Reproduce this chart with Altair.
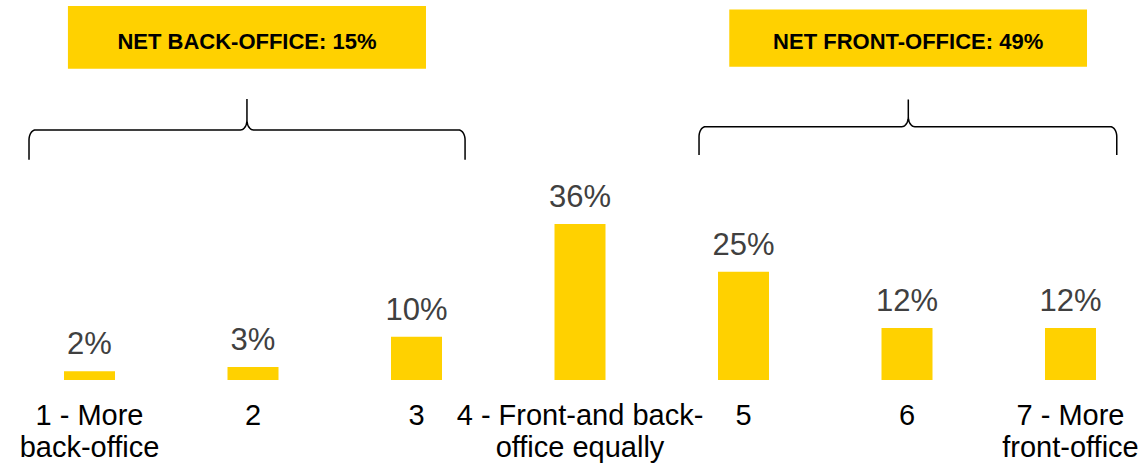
import math
import altair as alt
import pandas as pd

# ---- data ----
positions = [1, 2, 3, 4, 5, 6, 7]
categories = [
    "1 - More\nback-office",
    "2",
    "3",
    "4 - Front-and back-\noffice equally",
    "5",
    "6",
    "7 - More\nfront-office",
]
values = [2, 3, 10, 36, 25, 12, 12]

# annotation boxes (data units: x = category position, y = percent)
box_text = ["NET BACK-OFFICE: 15%", "NET FRONT-OFFICE: 49%"]
box_x0 = [0.868, 4.913]
box_x1 = [3.058, 7.101]
box_y0 = [71.8, 72.3]
box_y1 = [86.3, 85.5]
box_tx = [1.963, 6.007]
box_ty = [78.1, 78.1]

# braces
brace_x0 = [0.630, 4.728]
brace_xm = [1.963, 6.008]
brace_x1 = [3.297, 7.283]
brace_yb = [50.8, 51.9]
brace_yh = [57.7, 58.45]
brace_yt = [64.85, 64.75]

# ---- layout ----
W, H = 1133, 380
X_DOMAIN = [0.5015, 7.4312]
Y_DOMAIN = [0, 87.69]
PX_X = W / (X_DOMAIN[1] - X_DOMAIN[0])
PX_Y = H / (Y_DOMAIN[1] - Y_DOMAIN[0])
YELLOW = "#FFD100"
FONT = "Liberation Sans"

xs = alt.Scale(domain=X_DOMAIN, nice=False, zero=False, padding=0)
ys = alt.Scale(domain=Y_DOMAIN, nice=False, zero=False, padding=0)

df = pd.DataFrame({
    "pos": positions,
    "cat": categories,
    "val": values,
    "lbl": [f"{v}%" for v in values],
    "base": [0] * len(values),
})
boxes = pd.DataFrame({
    "x0": box_x0, "x1": box_x1, "y0": box_y0, "y1": box_y1,
    "tx": box_tx, "ty": box_ty, "text": box_text,
})


def brace_points(x0, xm, x1, yb, yh, yt, rx_px=6.5, ry_px=10.0, n=10):
    rx = rx_px / PX_X
    ry = ry_px / PX_Y
    pts = [(x0, yb)]
    cx, cy = x0 + rx, yh - ry
    for k in range(n + 1):
        t = math.pi / 2 * k / n
        pts.append((cx - rx * math.cos(t), cy + ry * math.sin(t)))
    cx, cy = xm - rx, yh + ry
    for k in range(n + 1):
        t = math.pi / 2 * k / n
        pts.append((cx + rx * math.sin(t), cy - ry * math.cos(t)))
    pts.append((xm, yt))
    cx, cy = xm + rx, yh + ry
    for k in range(n + 1):
        t = math.pi / 2 * k / n
        pts.append((cx - rx * math.cos(t), cy - ry * math.sin(t)))
    cx, cy = x1 - rx, yh - ry
    for k in range(n + 1):
        t = math.pi / 2 * k / n
        pts.append((cx + rx * math.sin(t), cy + ry * math.cos(t)))
    pts.append((x1, yb))
    return pts


rows = []
for b in range(len(brace_x0)):
    pts = brace_points(brace_x0[b], brace_xm[b], brace_x1[b],
                       brace_yb[b], brace_yh[b], brace_yt[b])
    for i, (px, py) in enumerate(pts):
        rows.append({"brace": b, "idx": i, "x": px, "y": py})
braces = pd.DataFrame(rows)

base = alt.Chart(df)

bars = base.mark_bar(size=51, color=YELLOW).encode(
    x=alt.X("pos:Q", scale=xs,
            axis=alt.Axis(domain=True, domainColor="#D9D9D9", domainWidth=2,
                          ticks=False, labels=False, grid=False, title=None)),
    y=alt.Y("val:Q", scale=ys, axis=None),
)

val_text = base.mark_text(
    baseline="alphabetic", dy=-17, fontSize=31, font=FONT, color="#404040"
).encode(
    x=alt.X("pos:Q", scale=xs, axis=None),
    y=alt.Y("val:Q", scale=ys, axis=None),
    text="lbl:N",
)

cat_text = base.mark_text(
    baseline="top", dy=22, fontSize=29, font=FONT, color="#000000",
    lineBreak="\n", lineHeight=32, align="center"
).encode(
    x=alt.X("pos:Q", scale=xs, axis=None),
    y=alt.Y("base:Q", scale=ys, axis=None),
    text="cat:N",
)

box_rect = alt.Chart(boxes).mark_rect(color=YELLOW).encode(
    x=alt.X("x0:Q", scale=xs, axis=None),
    x2="x1:Q",
    y=alt.Y("y0:Q", scale=ys, axis=None),
    y2="y1:Q",
)

box_label = alt.Chart(boxes).mark_text(
    baseline="middle", fontSize=22, fontWeight="bold", font=FONT, color="#000000"
).encode(
    x=alt.X("tx:Q", scale=xs, axis=None),
    y=alt.Y("ty:Q", scale=ys, axis=None),
    text="text:N",
)

brace_lines = alt.Chart(braces).mark_line(
    color="#000000", strokeWidth=1.5, interpolate="linear"
).encode(
    x=alt.X("x:Q", scale=xs, axis=None),
    y=alt.Y("y:Q", scale=ys, axis=None),
    detail="brace:N",
    order="idx:Q",
)

chart = alt.layer(bars, val_text, cat_text, box_rect, box_label, brace_lines).properties(
    width=W,
    height=H,
    autosize=alt.AutoSizeParams(type="none"),
    padding={"left": 8, "top": 0, "right": 0, "bottom": 83},
    background="#FFFFFF",
).configure_view(stroke=None)

chart.save("out.html", embed_options={"renderer": "svg", "actions": False})
